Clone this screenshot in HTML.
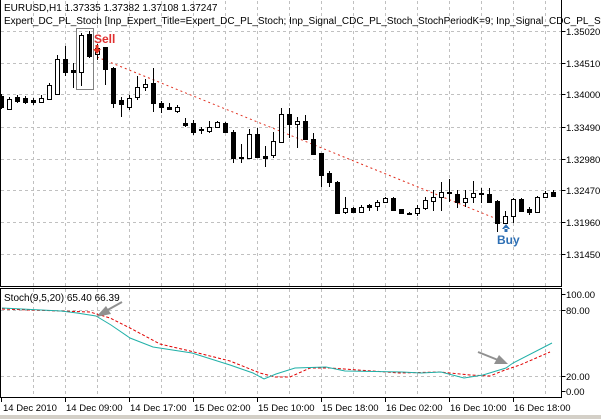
<!DOCTYPE html>
<html><head><meta charset="utf-8"><style>
html,body{margin:0;padding:0;background:#fff;width:601px;height:419px;overflow:hidden}
svg{display:block}
text{font-family:"Liberation Sans",sans-serif;font-size:10px;fill:#000}
.ax{font-size:9.5px}
</style></head><body>
<svg width="601" height="419" viewBox="0 0 601 419" xmlns="http://www.w3.org/2000/svg">
<rect x="0" y="0" width="601" height="419" fill="#fff"/>
<rect x="0" y="415" width="601" height="4" fill="#d4d0c8"/>
<g stroke="#c0c0c0" stroke-dasharray="3,3" stroke-width="1">
<path d="M33.5 1V286M65.5 1V286M97.5 1V286M129.5 1V286M161.5 1V286M193.5 1V286M225.5 1V286M257.5 1V286M289.5 1V286M321.5 1V286M353.5 1V286M385.5 1V286M417.5 1V286M449.5 1V286M481.5 1V286M513.5 1V286M545.5 1V286"/>
<path d="M1 31.5H561M1 63.5H561M1 94.5H561M1 127.5H561M1 159.5H561M1 190.5H561M1 222.5H561M1 254.5H561"/>
<path d="M33.5 289V397M65.5 289V397M97.5 289V397M129.5 289V397M161.5 289V397M193.5 289V397M225.5 289V397M257.5 289V397M289.5 289V397M321.5 289V397M353.5 289V397M385.5 289V397M417.5 289V397M449.5 289V397M481.5 289V397M513.5 289V397M545.5 289V397"/>
<path d="M1 310.5H561M1 376.5H561"/>
</g>
<g fill="none" stroke="#000" stroke-width="1">
<path d="M0.5 0V286.5H561.5V0"/>
<rect x="0.5" y="288.5" width="561" height="109"/>
<path d="M561.5 31.5h4M561.5 63.5h4M561.5 94.5h4M561.5 127.5h4M561.5 159.5h4M561.5 190.5h4M561.5 222.5h4M561.5 254.5h4M561.5 294.5h4M561.5 310.5h4M561.5 376.5h4M561.5 391.5h4"/>
<path d="M65.5 397v5M129.5 397v5M193.5 397v5M257.5 397v5M321.5 397v5M385.5 397v5M449.5 397v5M513.5 397v5M1.5 397v5"/>
</g>
<g class="ax">
<text class="ax" x="566" y="35">1.35020</text><text class="ax" x="566" y="67">1.34510</text><text class="ax" x="566" y="98">1.34000</text><text class="ax" x="566" y="131">1.33490</text><text class="ax" x="566" y="163">1.32980</text><text class="ax" x="566" y="194">1.32470</text><text class="ax" x="566" y="226">1.31960</text><text class="ax" x="566" y="258">1.31450</text>
<text class="ax" x="566" y="298">100.00</text><text class="ax" x="566" y="314">80.00</text><text class="ax" x="566" y="380">20.00</text><text class="ax" x="566" y="395">0.00</text>
</g>
<g>
<text class="ax" x="3" y="411">14 Dec 2010</text><text class="ax" x="66" y="411">14 Dec 09:00</text><text class="ax" x="130" y="411">14 Dec 17:00</text><text class="ax" x="194" y="411">15 Dec 02:00</text><text class="ax" x="258" y="411">15 Dec 10:00</text><text class="ax" x="322" y="411">15 Dec 18:00</text><text class="ax" x="386" y="411">16 Dec 02:00</text><text class="ax" x="450" y="411">16 Dec 10:00</text><text class="ax" x="514" y="411">16 Dec 18:00</text>
</g>
<text x="4" y="11">EURUSD,H1  1.37335 1.37382 1.37108 1.37247</text>
<text x="4" y="24">Expert_DC_PL_Stoch [Inp_Expert_Title=Expert_DC_PL_Stoch; Inp_Signal_CDC_PL_Stoch_StochPeriodK=9; Inp_Signal_CDC_PL_Stoc</text>
<text x="4" y="301">Stoch(9,5,20) 65.40 66.39</text>
<path d="M97 57L497 219" stroke="#e03020" stroke-dasharray="2,3" fill="none"/>
<rect x="76.5" y="28.5" width="17" height="61" fill="none" stroke="#808080"/>
<g stroke="#000" stroke-width="1">
<path d="M1.5 94V109M9.5 97V110M17.5 95V103M25.5 96V104M33.5 98V105M41.5 95V103M49.5 83V100M57.5 55V95M65.5 46V76M73.5 63V88M81.5 33V86M89.5 31V58M97.5 44V60M105.5 47V85M113.5 67V108M121.5 97V117M129.5 95V110M137.5 76V100M145.5 79V91M153.5 68V112M161.5 101V113M169.5 103V110M177.5 105V113M185.5 118V127M193.5 120V135M201.5 127V134M209.5 121V133M217.5 121V128M225.5 122V133M233.5 130V163M241.5 144V163M249.5 129V158M257.5 128V158M265.5 146V167M273.5 132V158M281.5 108V142M289.5 108V138M297.5 117V148M305.5 115V140M313.5 133V155M321.5 153V187M329.5 171V187M337.5 181V213M345.5 197V214M353.5 207V213M361.5 205V213M369.5 204V211M377.5 200V211M385.5 197V203M393.5 197V210M401.5 209V214M409.5 212V215M417.5 205V216M425.5 197V210M433.5 190V211M441.5 182V211M449.5 179V202M457.5 190V208M465.5 190V207M473.5 181V203M481.5 188V203M489.5 188V202M497.5 200V232M505.5 211V224M513.5 198V223M521.5 198V211M529.5 207V215M537.5 196V212M545.5 191V198M553.5 190V197"/>
</g>
<g fill="#000" stroke="#000">
<rect x="-0.5" y="96.5" width="4" height="11"/><rect x="15.5" y="97.5" width="4" height="4"/><rect x="23.5" y="98.5" width="4" height="4"/><rect x="31.5" y="100.5" width="4" height="2"/><rect x="63.5" y="59.5" width="4" height="13"/><rect x="71.5" y="70.5" width="4" height="2"/><rect x="87.5" y="34.5" width="4" height="22"/><rect x="103.5" y="47.5" width="4" height="22"/><rect x="111.5" y="68.5" width="4" height="35"/><rect x="119.5" y="100.5" width="4" height="4"/><rect x="151.5" y="83.5" width="4" height="20"/><rect x="159.5" y="103.5" width="4" height="4"/><rect x="167.5" y="107.5" width="4" height="2"/><rect x="183.5" y="123.5" width="4" height="2"/><rect x="191.5" y="123.5" width="4" height="9"/><rect x="199.5" y="129.5" width="4" height="1"/><rect x="223.5" y="123.5" width="4" height="9"/><rect x="231.5" y="132.5" width="4" height="26"/><rect x="239.5" y="157.5" width="4" height="1"/><rect x="255.5" y="134.5" width="4" height="23"/><rect x="263.5" y="156.5" width="4" height="2"/><rect x="287.5" y="114.5" width="4" height="10"/><rect x="303.5" y="121.5" width="4" height="18"/><rect x="311.5" y="139.5" width="4" height="15"/><rect x="319.5" y="153.5" width="4" height="22"/><rect x="327.5" y="173.5" width="4" height="9"/><rect x="335.5" y="182.5" width="4" height="31"/><rect x="351.5" y="208.5" width="4" height="4"/><rect x="367.5" y="205.5" width="4" height="2"/><rect x="391.5" y="198.5" width="4" height="12"/><rect x="399.5" y="209.5" width="4" height="4"/><rect x="407.5" y="213.5" width="4" height="1"/><rect x="447.5" y="192.5" width="4" height="1"/><rect x="455.5" y="194.5" width="4" height="8"/><rect x="479.5" y="193.5" width="4" height="1"/><rect x="487.5" y="194.5" width="4" height="8"/><rect x="495.5" y="201.5" width="4" height="22"/><rect x="519.5" y="199.5" width="4" height="12"/><rect x="527.5" y="209.5" width="4" height="3"/><rect x="551.5" y="192.5" width="4" height="4"/>
</g>
<g fill="#fff" stroke="#000">
<rect x="7.5" y="99.5" width="4" height="10"/><rect x="39.5" y="98.5" width="4" height="4"/><rect x="47.5" y="85.5" width="4" height="14"/><rect x="55.5" y="59.5" width="4" height="35"/><rect x="79.5" y="35.5" width="4" height="37"/><rect x="95.5" y="48.5" width="4" height="6"/><rect x="127.5" y="98.5" width="4" height="9"/><rect x="135.5" y="87.5" width="4" height="10"/><rect x="143.5" y="84.5" width="4" height="3"/><rect x="175.5" y="107.5" width="4" height="4"/><rect x="207.5" y="127.5" width="4" height="4"/><rect x="215.5" y="122.5" width="4" height="5"/><rect x="247.5" y="134.5" width="4" height="24"/><rect x="271.5" y="141.5" width="4" height="14"/><rect x="279.5" y="114.5" width="4" height="28"/><rect x="295.5" y="121.5" width="4" height="3"/><rect x="343.5" y="208.5" width="4" height="4"/><rect x="359.5" y="207.5" width="4" height="5"/><rect x="375.5" y="202.5" width="4" height="4"/><rect x="383.5" y="198.5" width="4" height="4"/><rect x="415.5" y="208.5" width="4" height="5"/><rect x="423.5" y="200.5" width="4" height="8"/><rect x="431.5" y="197.5" width="4" height="4"/><rect x="439.5" y="192.5" width="4" height="5"/><rect x="463.5" y="198.5" width="4" height="4"/><rect x="471.5" y="193.5" width="4" height="4"/><rect x="503.5" y="216.5" width="4" height="7"/><rect x="511.5" y="199.5" width="4" height="17"/><rect x="535.5" y="197.5" width="4" height="15"/><rect x="543.5" y="193.5" width="4" height="4"/>
</g>
<path d="M93 49h8l-4 5z M95.5 45h3v5h-3z" fill="#e03020"/>
<text x="94" y="43" style="font-size:12px;font-weight:bold;fill:#e03030">Sell</text>
<path d="M502 229h8l-4-5z M504.5 228h3v4h-3z" fill="#2d6fb4"/>
<text x="497" y="244" style="font-size:12px;font-weight:bold;fill:#2d6fb4">Buy</text>
<polyline fill="none" stroke="#e00000" stroke-dasharray="3,2" points="2,309 60,311 90,312 110,318 130,328 160,344 190,351 230,361 260,373 275,377 290,377 310,368 330,368 400,373 440,372 470,375 490,376 505,370 520,365 550,352"/>
<polyline fill="none" stroke="#20b0a8" points="2,308 61,311 77,313 96,316 111,325 130,338 153,347 192,353 230,365 253,373 264,379 276,374 295,368 326,367 345,371 402,372 421,373 441,372 464,378 483,375 506,368 513,363 552,343"/>
<path d="M122 302L104 312" stroke="#909090" stroke-width="2"/>
<path d="M96 317l10-11l5 8z" fill="#909090"/>
<path d="M478 352L498 360" stroke="#909090" stroke-width="2"/>
<path d="M508 364l-14 0l5-9z" fill="#909090"/>
</svg>
</body></html>
